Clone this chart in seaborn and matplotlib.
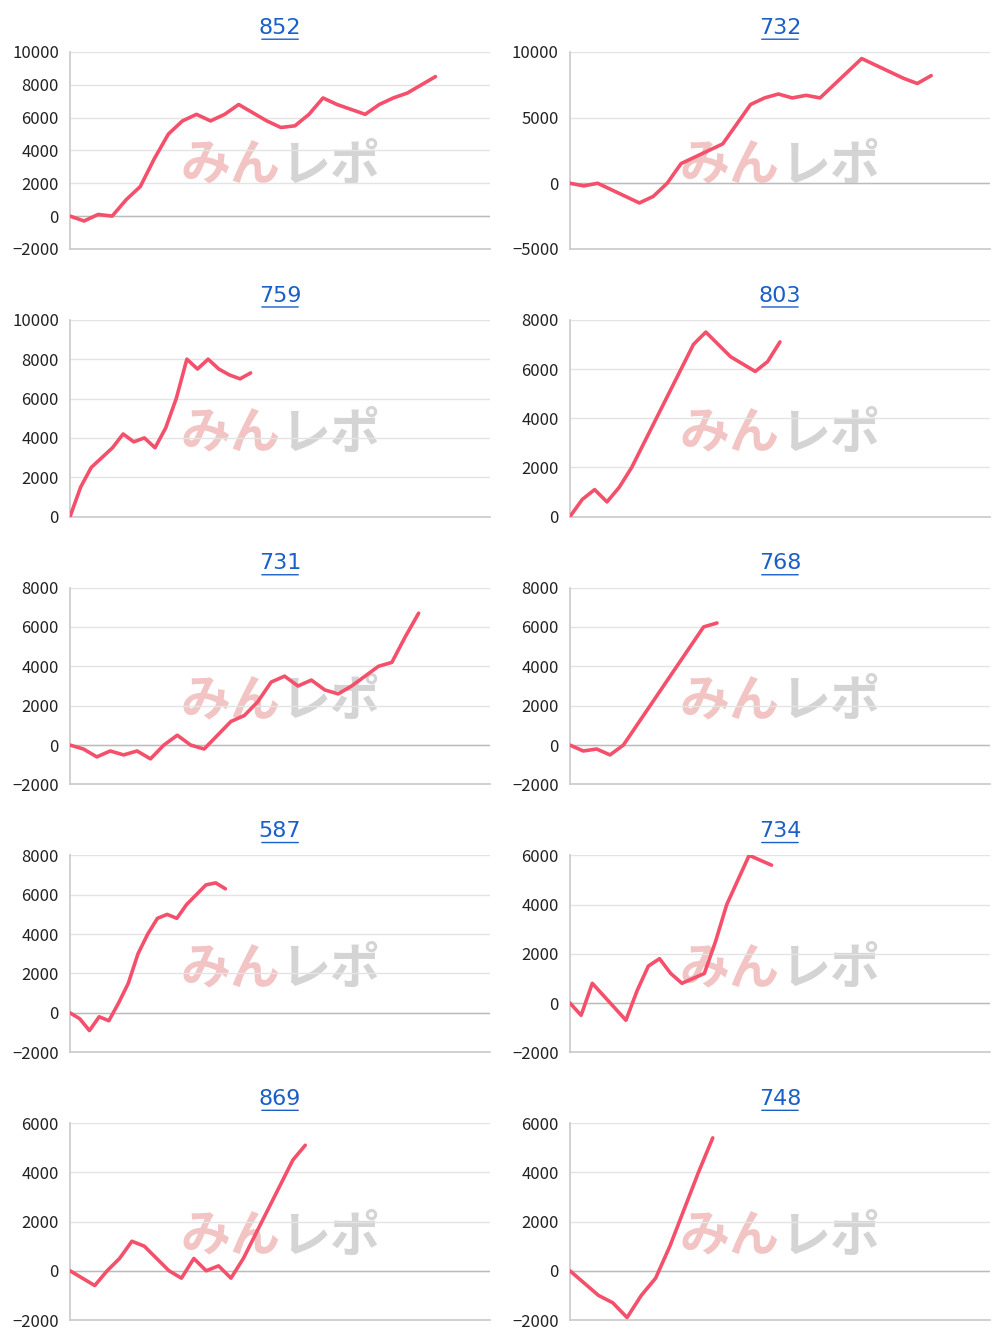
import matplotlib
matplotlib.use("Agg")
import matplotlib.pyplot as plt
import seaborn as sns
import pandas as pd
import numpy as np

titles = ["852", "732", "759", "803", "731", "768", "587", "734", "869", "748"]
ends = [87, 86, 43, 50, 83, 35, 37, 48, 56, 34]   # fraction of x-axis reached (%)
series = [
    [0,-300,100,0,1000,1800,3500,5000,5800,6200,5800,6200,6800,6300,5800,5400,5500,6200,7200,6800,6500,6200,6800,7200,7500,8000,8500],
    [0,-200,0,-500,-1000,-1500,-1000,0,1500,2000,2500,3000,4500,6000,6500,6800,6500,6700,6500,7500,8500,9500,9000,8500,8000,7600,8200],
    [0,1500,2500,3000,3500,4200,3800,4000,3500,4500,6000,8000,7500,8000,7500,7200,7000,7300],
    [0,700,1100,600,1200,2000,3000,4000,5000,6000,7000,7500,7000,6500,6200,5900,6300,7100],
    [0,-200,-600,-300,-500,-300,-700,0,500,0,-200,500,1200,1500,2200,3200,3500,3000,3300,2800,2600,3000,3500,4000,4200,5500,6700],
    [0,-300,-200,-500,0,1000,2000,3000,4000,5000,6000,6200],
    [0,-300,-900,-200,-400,500,1500,3000,4000,4800,5000,4800,5500,6000,6500,6600,6300],
    [0,-500,800,300,-200,-700,500,1500,1800,1200,800,1000,1200,2500,4000,5000,6000,5800,5600],
    [0,-300,-600,0,500,1200,1000,500,0,-300,500,0,200,-300,500,1500,2500,3500,4500,5100],
    [0,-500,-1000,-1300,-1900,-1000,-300,1000,2500,4000,5400],
]
ylims = [(-2000,10000),(-5000,10000),(0,10000),(0,8000),(-2000,8000),
         (-2000,8000),(-2000,8000),(-2000,6000),(-2000,6000),(-2000,6000)]
ysteps = [2000,5000,2000,2000,2000,2000,2000,2000,2000,2000]

sns.set_theme(style="white")
plt.rcParams['font.family'] = ['Noto Sans CJK JP', 'DejaVu Sans']
fig, axes = plt.subplots(5, 2, figsize=(10, 13.42), dpi=100)
fig.subplots_adjust(left=0.07, right=0.99, top=1-52/1342, bottom=1-1320/1342,
                    hspace=0.36, wspace=0.19)
for i, ax in enumerate(axes.flat):
    ys = series[i]
    xs = np.linspace(0, ends[i], len(ys))
    df = pd.DataFrame({"x": xs, "y": ys})
    lo, hi = ylims[i]
    ax.text(0.50, 0.42, "みん", transform=ax.transAxes, ha="right", va="center",
            fontsize=36, fontweight="bold", style="italic", color="#f2c4c4", zorder=0)
    ax.text(0.50, 0.42, "レポ", transform=ax.transAxes, ha="left", va="center",
            fontsize=36, fontweight="bold", style="italic", color="#d4d4d4", zorder=0)
    sns.lineplot(data=df, x="x", y="y", ax=ax, color="#f4506b", linewidth=2.6, zorder=3)
    ax.set_xlim(0, 100)
    ax.set_ylim(lo, hi)
    ax.set_yticks(np.arange(lo, hi + 1, ysteps[i]))
    ax.set_xticks([])
    ax.set_xlabel(""); ax.set_ylabel("")
    ax.grid(axis="y", color="#e4e4e4", linewidth=1)
    for s in ["top", "right"]:
        ax.spines[s].set_visible(False)
    ax.spines["left"].set_color("#cccccc")
    ax.spines["bottom"].set_color("#cccccc")
    ax.axhline(0, color="#bbbbbb", linewidth=1, zorder=1)
    ax.tick_params(axis="y", labelsize=12, colors="#222222", length=0, pad=8)
    t = ax.set_title(titles[i], fontsize=16, color="#1a5fc8", pad=13)
    t.set_fontfamily(["DejaVu Sans"])
    ax.annotate("", xy=(0.45, 1.065), xytext=(0.55, 1.065), xycoords="axes fraction",
                arrowprops=dict(arrowstyle="-", color="#1a5fc8", lw=1))
fig.savefig("out.png", dpi=100)
